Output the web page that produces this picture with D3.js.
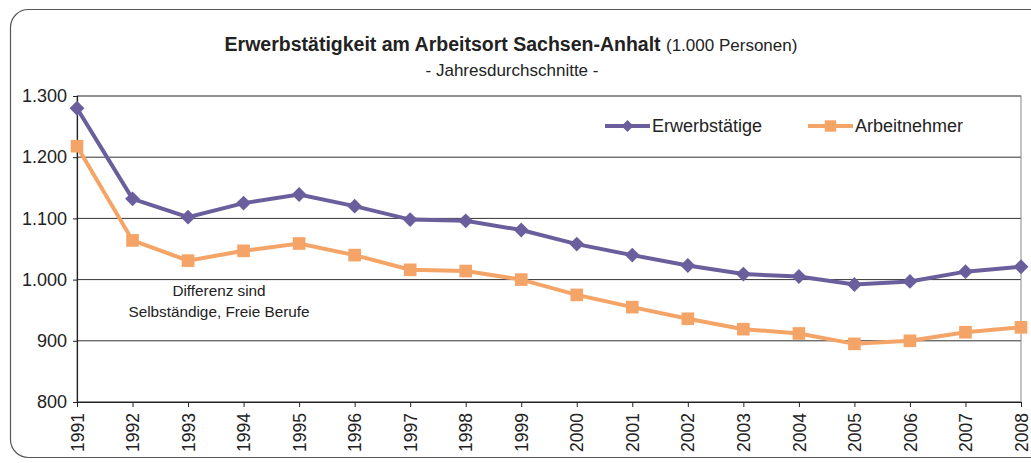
<!DOCTYPE html>
<html>
<head>
<meta charset="utf-8">
<script src="https://cdn.jsdelivr.net/npm/d3@7"></script>
<style>
  body { margin: 0; background: #fff; }
  text { font-family: "Liberation Sans", Arial, sans-serif; fill: #222; }
</style>
</head>
<body>
<div id="chart"></div>
<script>
var svgWidth = 1031;
var svgHeight = 463;

// data (1.000 Personen)
var years = ["1991", "1992", "1993", "1994", "1995", "1996", "1997", "1998", "1999",
  "2000", "2001", "2002", "2003", "2004", "2005", "2006", "2007", "2008"];
var erwerbstaetige = [1280, 1132, 1102, 1125, 1139, 1120, 1098, 1096, 1081,
  1058, 1040, 1023, 1009, 1005, 992, 997, 1013, 1021];
var arbeitnehmer = [1218, 1064, 1031, 1047, 1059, 1040, 1016, 1014, 1000,
  975, 955, 936, 919, 912, 895, 900, 914, 922];
var yTicks = [800, 900, 1000, 1100, 1200, 1300];

var margin = { top: 96, right: 10, bottom: 62, left: 77 };
var width = 1021 - margin.left;
var height = 402 - margin.top;

var purple = "#6a5f9c";
var orange = "#f5a468";

var svg = d3.select("#chart")
  .append("svg")
  .attr("width", svgWidth)
  .attr("height", svgHeight);

// outer rounded frame
svg.append("rect")
  .attr("x", 10.5)
  .attr("y", 9.5)
  .attr("width", 1040)
  .attr("height", 448)
  .attr("rx", 18)
  .attr("fill", "none")
  .attr("stroke", "#555")
  .attr("stroke-width", 1.2);

// title
var title = svg.append("text")
  .attr("x", 511)
  .attr("y", 51)
  .attr("text-anchor", "middle")
  .style("font-size", "19.5px");
title.append("tspan").style("font-weight", "bold").text("Erwerbstätigkeit am Arbeitsort Sachsen-Anhalt ");
title.append("tspan").style("font-size", "17px").text("(1.000 Personen)");

svg.append("text")
  .attr("x", 512)
  .attr("y", 76)
  .attr("text-anchor", "middle")
  .style("font-size", "17px")
  .text("- Jahresdurchschnitte -");

var chartGroup = svg.append("g")
  .attr("transform", `translate(${margin.left}, ${margin.top})`);

var xScale = d3.scalePoint()
  .domain(years)
  .range([0, width]);

var yScale = d3.scaleLinear()
  .domain([800, 1300])
  .range([height, 0]);

// gridlines
chartGroup.selectAll(".grid")
  .data(yTicks)
  .enter()
  .append("line")
  .attr("x1", 0)
  .attr("x2", width)
  .attr("y1", d => yScale(d))
  .attr("y2", d => yScale(d))
  .attr("stroke", "#333")
  .attr("stroke-width", 1);

// plot border
chartGroup.append("rect")
  .attr("width", width)
  .attr("height", height)
  .attr("fill", "none")
  .attr("stroke", "#888")
  .attr("stroke-width", 1);

// y axis
var leftAxis = d3.axisLeft(yScale)
  .tickValues(yTicks)
  .tickSize(4)
  .tickFormat(d => d3.format(",")(d).replace(",", "."));
var yAxis = chartGroup.append("g").call(leftAxis);
yAxis.select(".domain").attr("stroke", "#222").attr("stroke-width", 1.2);
yAxis.selectAll(".tick line").attr("stroke", "#222");
yAxis.selectAll("text")
  .attr("x", -10)
  .style("font-size", "18px")
  .style("font-family", "Liberation Sans, Arial, sans-serif")
  .attr("fill", "#222");

// x axis
var bottomAxis = d3.axisBottom(xScale).tickSize(5).tickSizeOuter(0);
var xAxis = chartGroup.append("g")
  .attr("transform", `translate(0, ${height})`)
  .call(bottomAxis);
xAxis.select(".domain").attr("stroke", "#222").attr("stroke-width", 1.2);
xAxis.selectAll(".tick line").attr("stroke", "#222");
xAxis.selectAll("text")
  .attr("transform", "rotate(-90)")
  .attr("x", -11)
  .attr("y", 0)
  .attr("dy", "0.35em")
  .attr("text-anchor", "end")
  .style("font-size", "17.5px")
  .style("font-family", "Liberation Sans, Arial, sans-serif")
  .attr("fill", "#222");

var line = d3.line()
  .x((d, i) => xScale(years[i]))
  .y(d => yScale(d));

// Erwerbstätige series
chartGroup.append("path")
  .datum(erwerbstaetige)
  .attr("d", line)
  .attr("fill", "none")
  .attr("stroke", purple)
  .attr("stroke-width", 4);

chartGroup.selectAll(".diamond")
  .data(erwerbstaetige)
  .enter()
  .append("path")
  .attr("d", d3.symbol().type(d3.symbolSquare).size(110))
  .attr("transform", (d, i) => `translate(${xScale(years[i])}, ${yScale(d)}) rotate(45)`)
  .attr("fill", purple);

// Arbeitnehmer series
chartGroup.append("path")
  .datum(arbeitnehmer)
  .attr("d", line)
  .attr("fill", "none")
  .attr("stroke", orange)
  .attr("stroke-width", 4);

chartGroup.selectAll(".square")
  .data(arbeitnehmer)
  .enter()
  .append("path")
  .attr("d", d3.symbol().type(d3.symbolSquare).size(160))
  .attr("transform", (d, i) => `translate(${xScale(years[i])}, ${yScale(d)})`)
  .attr("fill", orange);

// annotation
var note = chartGroup.append("text")
  .attr("x", 142)
  .attr("y", 200)
  .attr("text-anchor", "middle")
  .style("font-size", "15.3px");
note.append("tspan").attr("x", 142).text("Differenz sind");
note.append("tspan").attr("x", 142).attr("dy", 21).text("Selbständige, Freie Berufe");

// legend
var legend = svg.append("g").attr("transform", "translate(0, 126)");
var legendItems = [
  { name: "Erwerbstätige", color: purple, x: 605, symbol: "diamond" },
  { name: "Arbeitnehmer", color: orange, x: 808, symbol: "square" }
];
legendItems.forEach(function (item) {
  legend.append("line")
    .attr("x1", item.x)
    .attr("x2", item.x + 45)
    .attr("stroke", item.color)
    .attr("stroke-width", 4);
  legend.append("path")
    .attr("d", d3.symbol().type(d3.symbolSquare).size(item.symbol === "diamond" ? 70 : 130))
    .attr("transform", `translate(${item.x + 22.5}, 0)` + (item.symbol === "diamond" ? " rotate(45)" : ""))
    .attr("fill", item.color);
  legend.append("text")
    .attr("x", item.x + 47)
    .attr("y", 0)
    .attr("dy", "0.35em")
    .style("font-size", "18px")
    .text(item.name);
});
</script>
</body>
</html>
